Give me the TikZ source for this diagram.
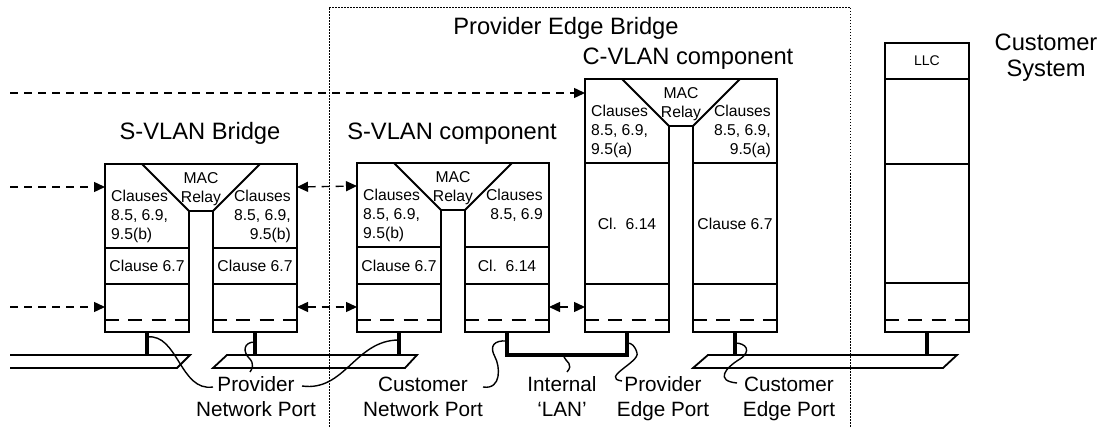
\documentclass[tikz,border=0pt]{standalone}
\usepackage{fontspec}
\setmainfont{Liberation Sans}
\usepackage{tikz}
\usetikzlibrary{positioning,arrows.meta}
% one bridge component: name, left x, top y, clause texts (left/right), band texts (left/right)
\newcommand{\relaycomp}[7]{%
  \draw[box] (#2+84,#3+47) -- (#2+37,#3) -- (#2,#3) -- (#2,332) -- (#2+84,332) -- cycle;
  \draw[box] (#2+108,#3+47) -- (#2+155,#3) -- (#2+192,#3) -- (#2+192,332) -- (#2+108,332) -- cycle;
  \draw[box] (#2+37,#3) -- (#2+155,#3) (#2+84,#3+47) -- (#2+108,#3+47);
  \foreach \o in {0,108} {
    \draw[box] (#2+\o,#3+84) -- ++(84,0) (#2+\o,284) -- ++(84,0);
    \draw[box, sublayer] (#2+\o,320) -- ++(84,0);
  }
  \node[txt, anchor=north] (#1-mac) at (#2+96,#3+8.3) {MAC\\Relay};
  \node[txt, anchor=north west, align=left] (#1-lc) at (#2+6,#3+26.2) {#4};
  \node[txt, anchor=north east, align=right] (#1-rc) at (#2+186,#3+26.2) {#5};
  \node[txt] (#1-lb) at (#2+42,{(#3+84+284)/2}) {#6};
  \node[txt] (#1-rb) at (#2+150,{(#3+84+284)/2}) {#7};
  \coordinate (#1-l) at (#2+42,332);
  \coordinate (#1-r) at (#2+150,332);
  \coordinate (#1-wa) at (#2,#3+23);
  \coordinate (#1-wb) at (#2,307);
  \coordinate (#1-ea) at (#2+192,#3+23);
  \coordinate (#1-eb) at (#2+192,307);
}

\begin{document}
\begin{tikzpicture}[x=1pt, y=-1pt,
  box/.style={draw=black, line width=1.8pt},
  sublayer/.style={dash pattern=on 14pt off 9.3pt},
  txt/.style={inner sep=0pt, align=center, font=\fontsize{15.7}{19}\selectfont},
  head/.style={inner sep=0pt, align=center, anchor=base, font=\fontsize{23.7}{26}\selectfont},
  lbl/.style={inner sep=0pt, align=center, anchor=base, font=\fontsize{20.7}{25}\selectfont},
  sig/.style={draw=black, line width=1.4pt, dash pattern=on 8pt off 6pt},
  stem/.style={draw=black, line width=3.3pt},
  lan/.style={draw=black, line width=1.8pt},
  lead/.style={draw=black, line width=1.4pt},
  pebox/.style={draw=black, line width=0.9pt, dash pattern=on 1.5pt off 1.5pt},
  >={Triangle[length=11pt,width=10pt]}]
\useasboundingbox (0,0) rectangle (1104,427);

% provider edge bridge frame
\draw[pebox] (329,427) |- (850,7) -- (850,427);
\node[head] (peb) at (566,35) {Provider Edge Bridge};

% components
\relaycomp{sb}{105}{164}{Clauses\\8.5, 6.9,\\9.5(b)}{Clauses\\8.5, 6.9,\\9.5(b)}{Clause 6.7}{Clause 6.7}
\relaycomp{sc}{357}{163}{Clauses\\8.5, 6.9,\\9.5(b)}{Clauses\\8.5, 6.9}{Clause 6.7}{Cl.~~6.14}
\relaycomp{cc}{585}{79}{Clauses\\8.5, 6.9,\\9.5(a)}{Clauses\\8.5, 6.9,\\9.5(a)}{Cl.~~6.14}{Clause 6.7}
\node[head] (sb-t) at (200,140) {S-VLAN Bridge};
\node[head] (sc-t) at (452,140) {S-VLAN component};
\node[head] (cc-t) at (688,65) {C-VLAN component};

% customer system
\draw[box] (885,43) rectangle (969,332);
\foreach \y in {79,164,283} \draw[box] (885,\y) -- (969,\y);
\draw[box, sublayer] (885,320) -- (969,320);
\node[txt, font=\fontsize{14}{16}\selectfont] (llc) at (927,61) {LLC};
\coordinate (cs) at (927,332);
\node[head] (cs-t) at (1046,77) {Customer\\System};

% service feeds
\coordinate (feed-c) at (10,93);
\coordinate (feed-a) at (10,187);
\coordinate (feed-b) at (10,307);
\draw[sig, ->] (feed-c) -- (feed-c -| cc-wb);
\foreach \a/\b in {feed-a/sb-wa, feed-b/sb-wb} \draw[sig, ->] (\a) -- (\b);
\foreach \a/\b in {sb-ea/sc-wa, sb-eb/sc-wb, sc-eb/cc-wb} \draw[sig, <->] (\a) -- (\b);

% LANs
\draw[lan] (10,355) -- (190,355) -- (177,368) -- (10,368);
\draw[lan] (227,355) -- (417,355) -- (405,368) -- (213,368) -- cycle;
\draw[lan] (708,355) -- (957,355) -- (943,368) -- (693,368) -- cycle;
\foreach \s in {sb-l, sb-r, sc-l, cc-r, cs} \draw[stem] (\s) -- ++(0,23);
\draw[stem] (sc-r) -- ++(0,23) -| (cc-l);

% port labels
\node[lbl] (pnp) at (256,417) {Provider\\Network Port};
\node[lbl] (cnp) at (423,417) {Customer\\Network Port};
\node[lbl] (ilan) at (562,417) {Internal\\‘LAN’};
\node[lbl] (pep) at (663,417) {Provider\\Edge Port};
\node[lbl] (cep) at (789,417) {Customer\\Edge Port};

% leaders
\draw[lead] ([shift={(0,5)}]sb-l) .. controls (178,333) and (180,392) .. ([shift={(-43,-30)}]pnp.base);
\draw[lead] ([shift={(0,10)}]sb-r) .. controls (243,342) and (243,352) .. (249,358) .. controls (255,364) and (252,369) .. ([shift={(-6,-45)}]pnp.base);
\draw[lead] ([shift={(46,-31)}]pnp.base) .. controls (345,392) and (355,340) .. ([shift={(0,8)}]sc-l);
\draw[lead] ([shift={(60,-30)}]cnp.base) .. controls (502,390) and (500,366) .. (495,357) .. controls (489,346) and (494,340) .. ([shift={(0,9)}]sc-r);
\draw[lead] (564,357) .. controls (566,362) and (574,364) .. ([shift={(5,-45)}]ilan.base);
\draw[lead] ([shift={(-41,-36)}]pep.base) .. controls (600,378) and (640,362) .. (637,353) .. controls (635,346) and (632,343) .. ([shift={(0,11)}]cc-l);
\draw[lead] ([shift={(-52,-34)}]cep.base) .. controls (715,381) and (725,368) .. (740,359) .. controls (752,351) and (746,343) .. ([shift={(0,11)}]cc-r);
\end{tikzpicture}
\end{document}
